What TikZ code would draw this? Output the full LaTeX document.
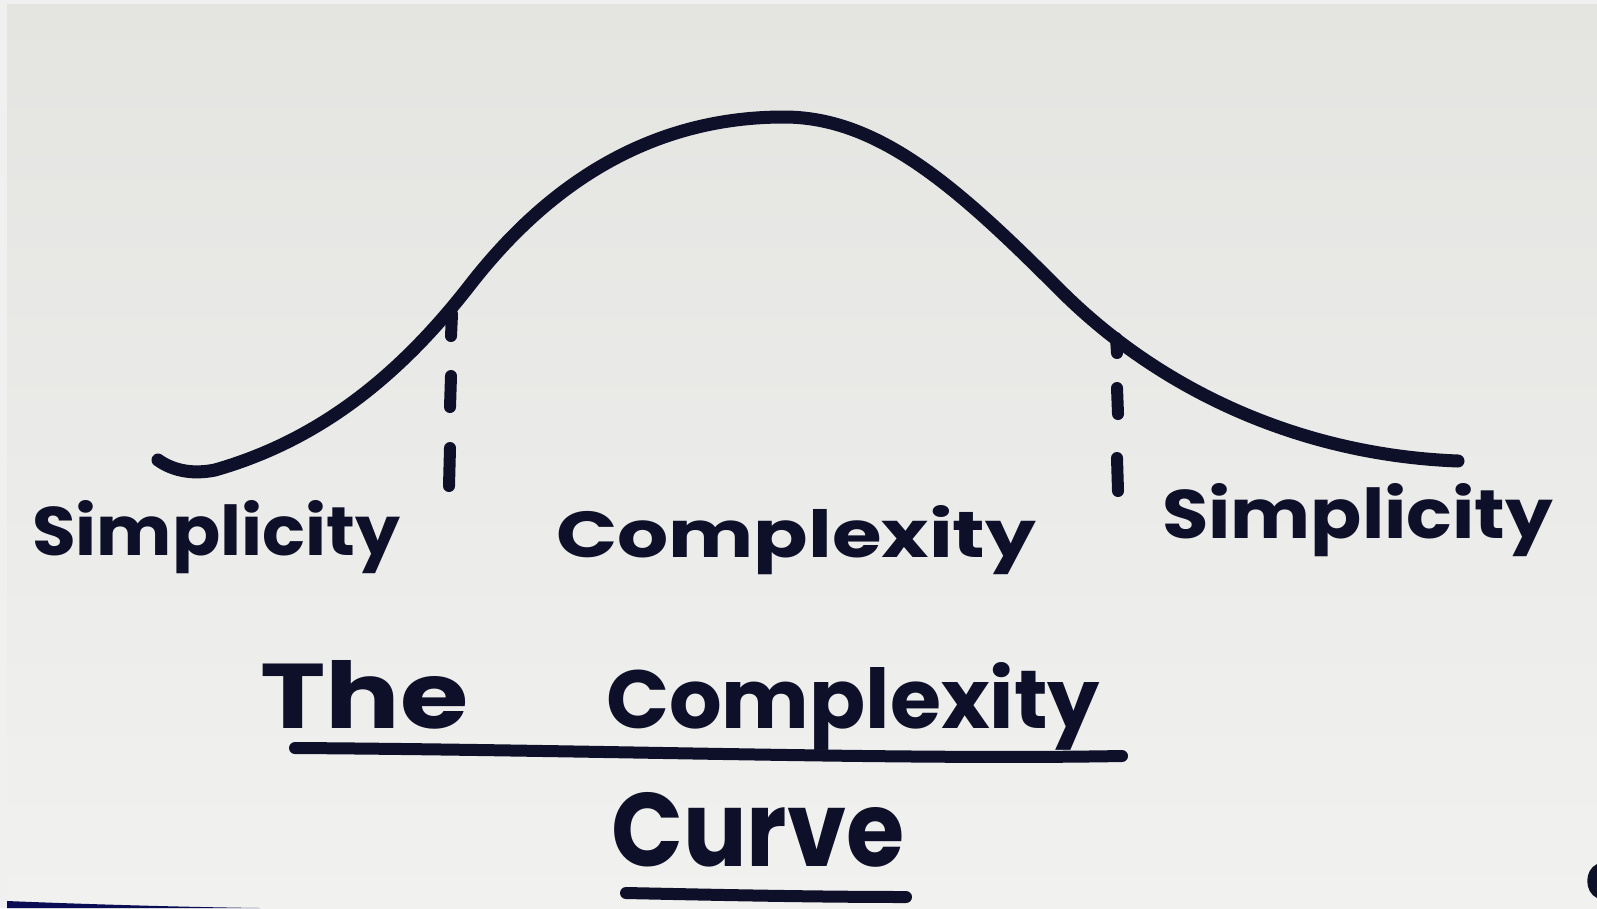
\documentclass[tikz,border=0pt]{standalone}
\usepackage{fontspec}
\newfontfamily\hand{Poppins}
\definecolor{ink}{HTML}{0D1028}
\definecolor{frame}{HTML}{F0F0F0}
\definecolor{papertop}{HTML}{E4E4E1}
\definecolor{paperbot}{HTML}{F1F1F0}
\begin{document}
\begin{tikzpicture}[x=1pt,y=-1pt,
  pen/.style={draw=ink, line width=13pt, line cap=round, line join=round},
  dashpen/.style={draw=ink, line width=12pt, line cap=round},
  word/.style={inner sep=0pt, anchor=base west, text=ink, font=\hand\bfseries}]
\useasboundingbox (0,0) rectangle (1597,908);
% sheet of paper
\fill[frame] (0,0) rectangle (1597,908);
\shade[top color=papertop, bottom color=paperbot] (7,4) rectangle (1597,908);
\fill[ink!80!blue] (7,908) -- (7,901) .. controls (80,904) and (180,907) .. (260,908) -- cycle;
\fill[ink] (1597,864) .. controls (1584,870) and (1584,892) .. (1597,898) -- cycle;

% the bell-shaped curve
\coordinate (c0) at (158,460);
\coordinate (c1) at (215,470);
\coordinate (c2) at (470,285);
\coordinate (top) at (784,117);
\coordinate (c3) at (1060,290);
\coordinate (c4) at (1458,461);
\draw[pen] (c0) .. controls (175,472) and (195,474) .. (c1)
  .. controls (320,440) and (400,375) .. (c2)
  .. controls (540,195) and (640,117) .. (top)
  .. controls (880,117) and (960,190) .. (c3)
  .. controls (1160,390) and (1300,455) .. (c4);

% dashed dividers
\draw[dashpen] (452,314) -- (451,336);
\draw[dashpen] (451,376) -- (450,407);
\draw[dashpen] (450,448) -- (449,486);
\draw[dashpen] (1116,338) -- (1117,353);
\draw[dashpen] (1117,388) -- (1118,414);
\draw[dashpen] (1117,458) -- (1118,491);

% labels
\node[word] (simpL) at (32,555) {\resizebox{368pt}{55pt}{Simplicity}};
\node[word] (cplx) at (556,557) {\resizebox{480pt}{52pt}{Complexity}};
\node[word] (simpR) at (1162,538) {\resizebox{391pt}{55pt}{Simplicity}};

% title
\node[word] (the) at (260,728) {\resizebox{208pt}{68pt}{The}};
\node[word] (cplxT) at (606,728) {\resizebox{494pt}{66pt}{Complexity}};
\node[word] (curve) at (611,866) {\resizebox{293pt}{74pt}{Curve}};

\coordinate (ulA) at (295,748);
\coordinate (ulB) at (1122,756);
\coordinate (ulC) at (626,893);
\coordinate (ulD) at (906,897);
\draw[dashpen] (ulA) .. controls (600,750) and (900,760) .. (ulB);
\draw[dashpen] (ulC) .. controls (720,895) and (820,897) .. (ulD);
\end{tikzpicture}
\end{document}
